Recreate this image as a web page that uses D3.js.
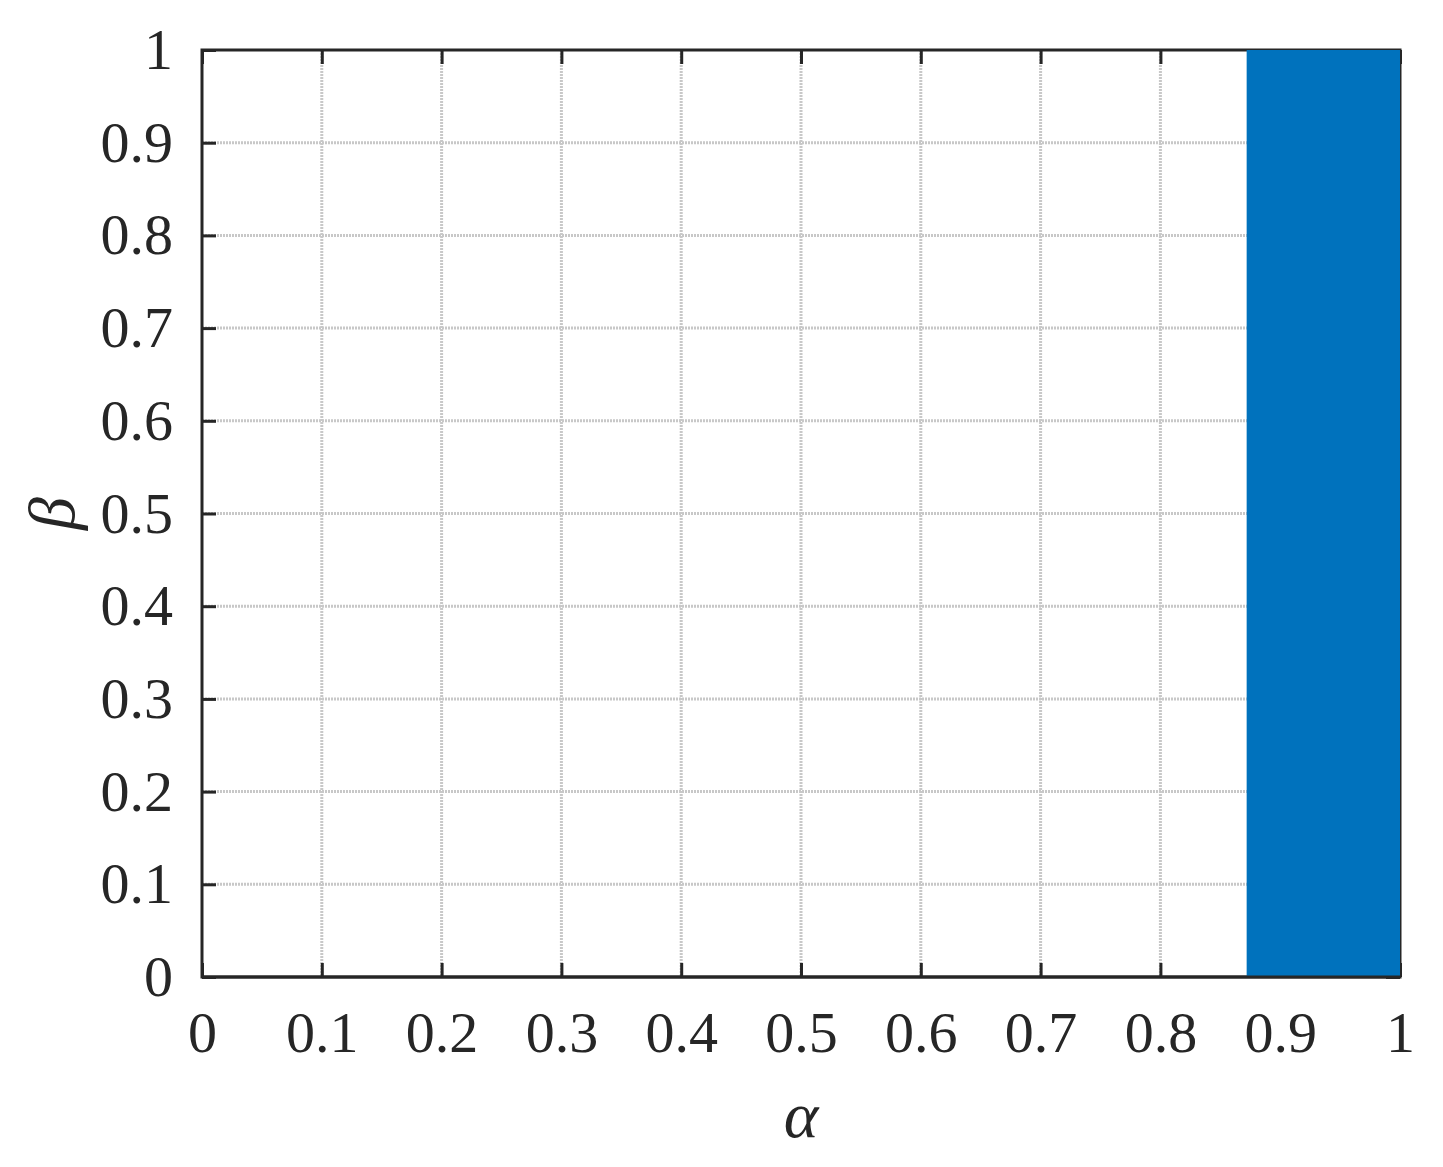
<!DOCTYPE html>
<html>
<head>
<meta charset="utf-8">
<script src="https://cdn.jsdelivr.net/npm/d3@7"></script>
<style>
  body { margin: 0; background: #fff; }
  svg text { font-family: "Liberation Serif", "DejaVu Serif", serif; fill: #262626; }
</style>
</head>
<body>
<div id="chart"></div>
<script>
// tick values
var alphaTicks = [0, 0.1, 0.2, 0.3, 0.4, 0.5, 0.6, 0.7, 0.8, 0.9, 1];
var betaTicks = [0, 0.1, 0.2, 0.3, 0.4, 0.5, 0.6, 0.7, 0.8, 0.9, 1];

// feasible region (alpha range, beta range)
var regionAlpha = [0.872, 1];
var regionBeta = [0, 1];

var margin = {top: 50, right: 43, bottom: 190, left: 202},
    width = 1443 - margin.left - margin.right,
    height = 1167 - margin.top - margin.bottom;

var svg = d3.select("#chart")
  .append("svg")
    .attr("width", 1443)
    .attr("height", 1167)
  .append("g")
    .attr("transform", "translate(" + margin.left + "," + margin.top + ")");

var x = d3.scaleLinear().domain([0, 1]).range([0, width]);
var y = d3.scaleLinear().domain([0, 1]).range([height, 0]);

// grid
var grid = svg.append("g");
grid.selectAll(".gx")
  .data(alphaTicks.slice(1, -1))
  .enter().append("line")
    .attr("x1", function(d) { return x(d); })
    .attr("x2", function(d) { return x(d); })
    .attr("y1", 0).attr("y2", height)
    .attr("stroke", "#c8c8c8")
    .attr("stroke-width", 3)
    .attr("stroke-dasharray", "2,1");
grid.selectAll(".gy")
  .data(betaTicks.slice(1, -1))
  .enter().append("line")
    .attr("y1", function(d) { return y(d); })
    .attr("y2", function(d) { return y(d); })
    .attr("x1", 0).attr("x2", width)
    .attr("stroke", "#c8c8c8")
    .attr("stroke-width", 3)
    .attr("stroke-dasharray", "2,1");

// axes (ticks inward, mirrored on top/right)
function styleAxis(g) {
  g.select(".domain").remove();
  g.selectAll(".tick line").attr("stroke", "#262626").attr("stroke-width", 3);
  g.selectAll(".tick text").style("font-size", "58px").attr("fill", "#262626");
}

svg.append("g")
  .attr("transform", "translate(0," + height + ")")
  .call(d3.axisBottom(x).tickValues(alphaTicks).tickSize(-14).tickPadding(34).tickFormat(d3.format("~g")))
  .call(styleAxis);
svg.append("g")
  .call(d3.axisTop(x).tickValues(alphaTicks).tickSize(-14).tickFormat(""))
  .call(styleAxis);
svg.append("g")
  .call(d3.axisLeft(y).tickValues(betaTicks).tickSize(-14).tickPadding(29).tickFormat(d3.format("~g")))
  .call(styleAxis);
svg.append("g")
  .attr("transform", "translate(" + width + ",0)")
  .call(d3.axisRight(y).tickValues(betaTicks).tickSize(-14).tickFormat(""))
  .call(styleAxis);

// box
svg.append("path")
  .attr("d", "M0,0H" + width + "V" + height + "H0Z")
  .attr("fill", "none")
  .attr("stroke", "#262626")
  .attr("stroke-width", 3);

// region
var area = d3.area()
  .x(function(d) { return x(d); })
  .y0(y(regionBeta[0]))
  .y1(y(regionBeta[1]));
svg.append("path")
  .datum(regionAlpha)
  .attr("d", area)
  .attr("fill", "#0072BD");

// redraw bottom axis line over region
svg.append("line")
  .attr("x1", 0).attr("x2", width)
  .attr("y1", height).attr("y2", height)
  .attr("stroke", "#262626").attr("stroke-width", 3);

// labels
svg.append("text")
  .attr("x", width / 2)
  .attr("y", height + 160)
  .attr("text-anchor", "middle")
  .style("font-size", "66px")
  .style("font-style", "italic")
  .text("α");

svg.append("text")
  .attr("transform", "translate(" + (-margin.left + 74) + "," + y(0.5) + ") rotate(-90)")
  .attr("text-anchor", "middle")
  .style("font-size", "66px")
  .style("font-style", "italic")
  .text("β");
</script>
</body>
</html>
